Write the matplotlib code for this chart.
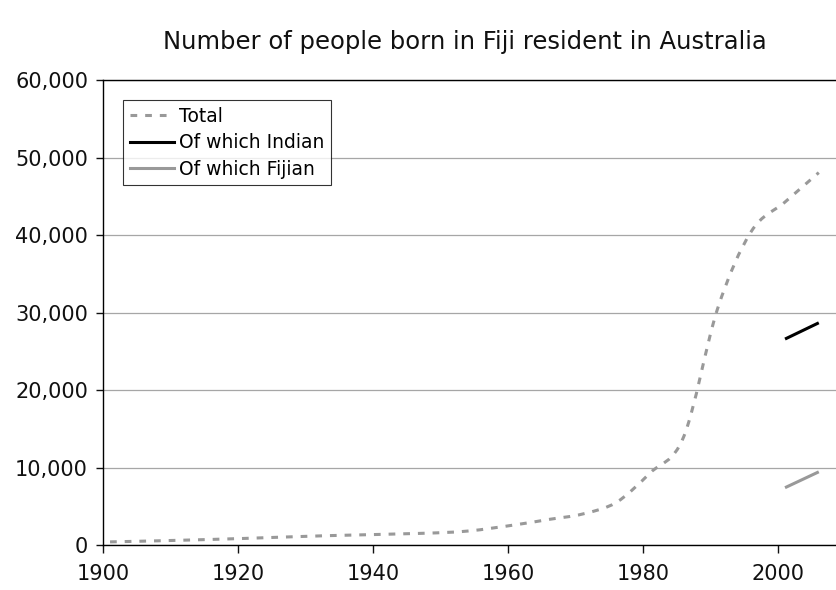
import matplotlib
matplotlib.use("Agg")
import matplotlib.pyplot as plt
from matplotlib.path import Path
from matplotlib.patches import PathPatch
from matplotlib.lines import Line2D
from matplotlib.ticker import FuncFormatter
import numpy as np

title = "Number of people born in Fiji resident in Australia"
years_total = [1901, 1911, 1921, 1933, 1947, 1954, 1961, 1966, 1971, 1976, 1981, 1986, 1991, 1996, 2001, 2006]
total = [400, 600, 850, 1200, 1500, 1800, 2600, 3300, 4000, 5500, 9300, 14000, 30500, 40500, 44300, 48100]
years_sub = [2001, 2006]
indian = [26600, 28700]
fijian = [7400, 9450]
labels = ["Total", "Of which Indian", "Of which Fijian"]

plt.rcParams['font.family'] = ['DejaVu Sans']

fig = plt.figure(figsize=(8.37, 5.90), dpi=100)
ax = fig.add_axes([0.1234, 0.0763, 0.8766, 0.7873])


def smooth_path(xs, ys):
    pts = np.column_stack([xs, ys]).astype(float)
    n = len(pts)
    verts = [pts[0]]
    codes = [Path.MOVETO]
    for i in range(n - 1):
        p0 = pts[i - 1] if i > 0 else pts[i]
        p1 = pts[i]
        p2 = pts[i + 1]
        p3 = pts[i + 2] if i + 2 < n else pts[i + 1]
        c1 = p1 + (p2 - p0) / 6.0
        c2 = p2 - (p3 - p1) / 6.0
        verts += [c1, c2, p2]
        codes += [Path.CURVE4] * 3
    return Path(verts, codes)


grey_total = '#999999'
dash = (0, (2.2, 2.6))
ax.add_patch(PathPatch(smooth_path(years_total, total), facecolor='none',
                       edgecolor=grey_total, lw=2.2, linestyle=dash,
                       capstyle='butt', zorder=3))
ax.plot(years_sub, indian, color='black', lw=2.2, solid_capstyle='butt', zorder=3)
ax.plot(years_sub, fijian, color='#999999', lw=2.2, solid_capstyle='butt', zorder=3)

ax.set_xlim(1900, 2008.7)
ax.set_ylim(0, 60000)
ax.set_xticks([1900, 1920, 1940, 1960, 1980, 2000])
ax.set_yticks(np.arange(0, 60001, 10000))
ax.yaxis.set_major_formatter(FuncFormatter(lambda v, p: f"{int(v):,}"))
ax.grid(axis='y', color='#a6a6a6', lw=0.9)
ax.set_axisbelow(True)
ax.spines['right'].set_visible(False)
for s in ['left', 'bottom', 'top']:
    ax.spines[s].set_color('black')
    ax.spines[s].set_linewidth(1.0)
ax.tick_params(axis='y', direction='out', length=5, width=1, labelsize=15, pad=6, colors='#111111')
ax.tick_params(axis='x', direction='out', length=6, width=1, labelsize=15, pad=8, colors='#111111')

fig.text(465 / 837, 1 - 42 / 590, title, ha='center', va='center', fontsize=17.5, color='#111111')

handles = [
    Line2D([], [], color=grey_total, lw=2.2, linestyle=dash),
    Line2D([], [], color='black', lw=2.2),
    Line2D([], [], color='#999999', lw=2.2),
]
leg = ax.legend(handles, labels, loc='upper left', bbox_to_anchor=(123 / 837, 1 - 100 / 590),
                bbox_transform=fig.transFigure, fontsize=13.5, frameon=True, fancybox=False,
                edgecolor='black', handlelength=2.35, handletextpad=0.3, labelspacing=0.4,
                borderpad=0.35, borderaxespad=0)
leg.get_frame().set_linewidth(0.8)

fig.savefig("out.png", dpi=100)
